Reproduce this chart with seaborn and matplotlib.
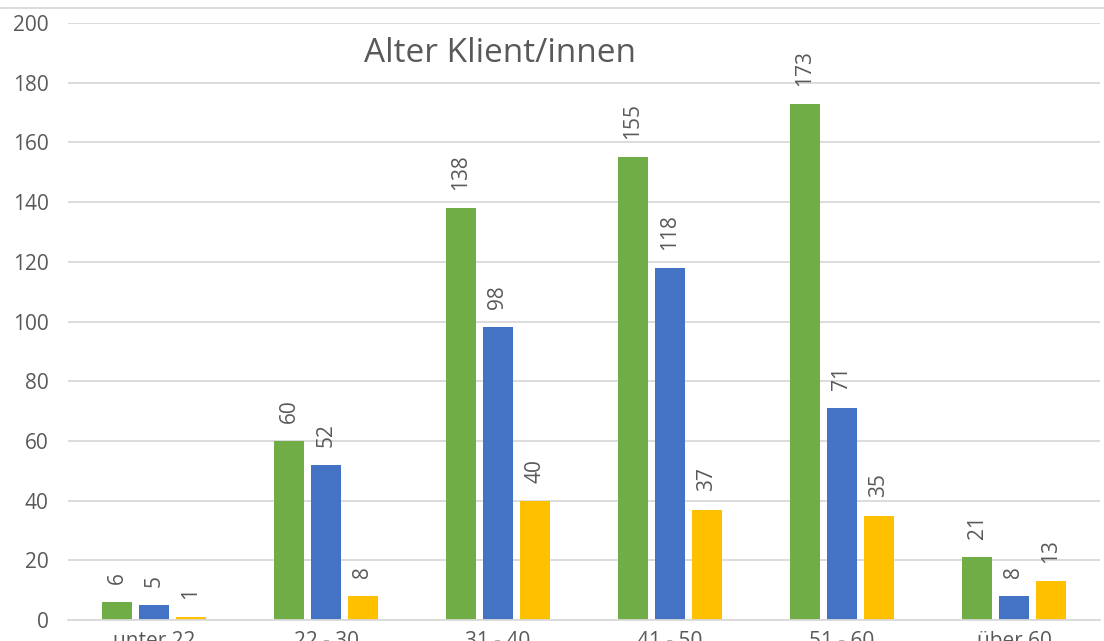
import matplotlib
matplotlib.use("Agg")
import matplotlib.pyplot as plt
import seaborn as sns
import pandas as pd
import numpy as np

categories = ["unter 22", "22 - 30", "31 - 40", "41 - 50", "51 - 60", "über 60"]
series_names = ["Reihe 1", "Reihe 2", "Reihe 3"]
green_vals = [6, 60, 138, 155, 173, 21]
blue_vals = [5, 52, 98, 118, 71, 8]
yellow_vals = [1, 8, 40, 37, 35, 13]
colors = ["#70AD47", "#4472C4", "#FFC000"]
title = "Alter Klient/innen"

rows = []
for name, vals in zip(series_names, [green_vals, blue_vals, yellow_vals]):
    for c, v in zip(categories, vals):
        rows.append({"cat": c, "series": name, "value": v})
df = pd.DataFrame(rows)

sns.set_theme(style="white")
plt.rcParams["font.family"] = ["Open Sans", "DejaVu Sans"]
text_color = "#595959"
grid_color = "#D9D9D9"

fig = plt.figure(figsize=(11.04, 6.41), dpi=100)
ax = fig.add_axes([68/1104, 21/641, 1032/1104, 597/641])

sns.barplot(data=df, x="cat", y="value", hue="series", order=categories,
            hue_order=series_names, palette=colors, width=0.645, gap=0.19,
            saturation=1, ax=ax, legend=False, edgecolor="none")

for cont in ax.containers:
    ax.bar_label(cont, rotation=90, padding=13, color=text_color, fontsize=15)

ax.set_ylim(0, 200)
ax.set_xlim(-0.5, len(categories) - 0.5)
ax.set_yticks(np.arange(0, 201, 20))
ax.yaxis.grid(True, color=grid_color, linewidth=1.3)
ax.set_axisbelow(True)
for s in ["top", "right", "left"]:
    ax.spines[s].set_visible(False)
ax.spines["bottom"].set_color(grid_color)
ax.spines["bottom"].set_linewidth(1.3)

ax.tick_params(axis="y", length=0, labelsize=15, labelcolor=text_color, pad=14)
# category separators as major ticks, labels at minor ticks
ax.set_xticks(np.arange(-0.5, len(categories), 1.0))
ax.set_xticklabels([])
ax.set_xticks(np.arange(len(categories)), minor=True)
ax.set_xticklabels(categories, minor=True)
ax.tick_params(axis="x", which="major", length=30, width=1.3, color=grid_color, direction="out")
ax.tick_params(axis="x", which="minor", length=0, labelsize=15, labelcolor=text_color, pad=8)
ax.set_xlabel("")
ax.set_ylabel("")

fig.text(500/1104, 1 - 53/641, title, ha="center", va="center", fontsize=24, color=text_color)
fig.add_artist(plt.Line2D([0, 1], [1 - 8/641, 1 - 8/641], color=grid_color, linewidth=1.3,
                          transform=fig.transFigure))

fig.savefig("out.png", dpi=100, facecolor="white")
